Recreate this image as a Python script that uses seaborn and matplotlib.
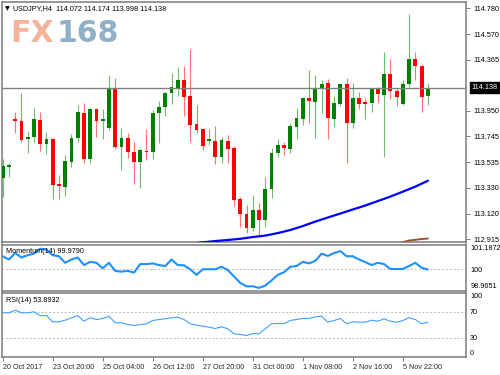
import numpy as np
import pandas as pd
import matplotlib
matplotlib.use("Agg")
import matplotlib.pyplot as plt
import seaborn as sns
from matplotlib import transforms

# ---------------- data ----------------
opens = [113.406, 113.499, 113.883, 113.871, 113.721, 113.740, 113.879, 113.683, 113.721, 113.357,
         113.338, 113.540, 113.734, 113.936, 113.562, 113.968, 113.869, 113.810, 114.133, 113.656,
         113.729, 113.621, 113.535, 113.629, 113.621, 113.931, 113.980, 114.093, 114.138, 114.200,
         114.071, 113.842, 113.802, 113.707, 113.710, 113.580, 113.710, 113.648, 113.236, 113.117,
         113.006, 113.149, 113.069, 113.317, 113.608, 113.675, 113.640, 113.823, 113.883, 114.052,
         114.025, 114.125, 114.174, 113.885, 114.006, 114.168, 113.850, 114.052, 114.017, 114.012,
         114.125, 114.079, 114.246, 114.114, 114.006, 114.168, 114.368, 114.316, 114.072]
highs = [113.562, 113.532, 113.939, 114.093, 113.788, 113.972, 113.939, 113.778, 113.730, 113.432,
         113.594, 113.764, 113.998, 114.017, 113.976, 113.968, 113.963, 114.241, 114.214, 113.810,
         113.769, 113.702, 113.648, 113.802, 113.958, 114.033, 114.106, 114.259, 114.308, 114.316,
         114.449, 113.998, 113.810, 113.802, 113.828, 113.742, 113.756, 113.667, 113.257, 113.190,
         113.271, 113.204, 113.414, 113.648, 113.721, 113.702, 113.850, 113.972, 114.065, 114.281,
         114.241, 114.200, 114.208, 114.071, 114.174, 114.214, 114.174, 114.101, 114.052, 114.133,
         114.141, 114.424, 114.368, 114.133, 114.200, 114.734, 114.429, 114.320, 114.174]
lows = [113.257, 113.419, 113.770, 113.700, 113.613, 113.689, 113.629, 113.600, 113.236, 113.236,
        113.263, 113.495, 113.702, 113.532, 113.527, 113.737, 113.723, 113.800, 113.643, 113.473,
        113.567, 113.360, 113.330, 113.554, 113.562, 113.693, 113.909, 114.004, 114.071, 113.912,
        113.702, 113.770, 113.635, 113.675, 113.519, 113.532, 113.527, 113.184, 113.014, 112.966,
        112.982, 112.947, 113.014, 113.244, 113.580, 113.594, 113.613, 113.721, 113.837, 113.850,
        113.734, 113.936, 113.723, 113.823, 113.993, 113.527, 113.810, 113.966, 113.883, 113.944,
        114.025, 113.580, 114.044, 113.993, 113.995, 114.146, 114.200, 113.944, 113.998]
closes = [113.505, 113.511, 113.871, 113.715, 113.740, 113.885, 113.683, 113.723, 113.352, 113.343,
          113.546, 113.734, 113.944, 113.562, 113.968, 113.871, 113.883, 114.133, 113.656, 113.729,
          113.616, 113.535, 113.635, 113.616, 113.936, 113.980, 114.093, 114.146, 114.200, 114.061,
          113.837, 113.796, 113.667, 113.721, 113.580, 113.715, 113.643, 113.230, 113.115, 113.002,
          113.149, 113.069, 113.317, 113.608, 113.675, 113.648, 113.828, 113.891, 114.052, 114.033,
          114.133, 114.168, 113.891, 114.017, 114.168, 113.850, 114.052, 114.006, 114.009, 114.125,
          114.087, 114.246, 114.114, 114.065, 114.168, 114.368, 114.314, 114.065, 114.138]

ma_bars = [31, 32, 34, 36, 38, 40, 42, 44, 46, 48, 50, 52, 54, 56, 58, 60, 62, 64, 66, 68]
ma_vals = [112.882, 112.888, 112.899, 112.907, 112.917, 112.931, 112.943, 112.963, 112.988, 113.020,
           113.056, 113.089, 113.121, 113.154, 113.186, 113.222, 113.258, 113.298, 113.339, 113.386]
ma2_bars = [63, 65, 67, 68]
ma2_vals = [112.875, 112.903, 112.915, 112.919]

momentum = [100.619, 100.463, 100.775, 100.558, 100.667, 100.747, 100.983, 100.936, 100.667, 100.619,
            100.303, 100.463, 100.558, 100.194, 100.350, 100.303, 100.038, 100.303, 99.910, 99.877,
            99.910, 99.830, 100.241, 100.241, 100.274, 100.194, 100.147, 100.463, 100.194, 100.180,
            99.991, 99.721, 99.991, 99.991, 99.991, 100.113, 99.957, 99.641, 99.329, 99.168,
            99.168, 99.092, 99.201, 99.452, 99.721, 99.849, 100.113, 100.147, 100.350, 100.274,
            100.397, 100.747, 100.634, 100.775, 100.870, 100.619, 100.619, 100.463, 100.336, 100.194,
            100.303, 100.241, 100.005, 100.005, 100.005, 100.147, 100.303, 100.066, 99.979]
rsi = [68.5, 68.5, 72.6, 68.5, 68.5, 70.1, 64.3, 64.3, 54.6, 54.6,
       57.1, 60.8, 64.3, 55.5, 60.8, 58.1, 59.7, 63.3, 53.0, 53.0,
       50.4, 48.8, 50.4, 51.5, 56.6, 58.1, 59.2, 60.8, 61.7, 58.1,
       51.5, 49.3, 47.8, 46.2, 44.2, 46.8, 43.7, 36.0, 34.9, 33.3,
       36.4, 36.0, 43.7, 51.5, 51.9, 51.5, 56.6, 58.1, 59.7, 59.7,
       62.3, 63.3, 54.0, 56.6, 59.7, 51.5, 54.6, 54.0, 54.0, 57.1,
       55.5, 59.2, 55.5, 54.0, 56.6, 60.8, 58.1, 51.5, 53.9]

price_ticks = [114.780, 114.570, 114.365, 113.950, 113.745, 113.535, 113.330, 113.120, 112.915]
last_price = 114.138
mom_ticks = [101.1872, 100.0, 98.9651]
mom_labels = ["101.1872", "100", "98.9651"]
rsi_ticks = [100, 70, 30, 0]
date_pos = [0, 8, 16, 24, 32, 40, 48, 56, 64]
date_labels = ["20 Oct 2017", "23 Oct 20:00", "25 Oct 04:00", "26 Oct 12:00", "27 Oct 20:00",
               "31 Oct 00:00", "1 Nov 08:00", "2 Nov 16:00", "5 Nov 22:00"]

# ---------------- style ----------------
sns.set_style("white")
plt.rcParams['font.family'] = ['Liberation Sans', 'DejaVu Sans']
FS = 5.2
GRAY = '#7a7a7a'

W, H = 500, 375
fig = plt.figure(figsize=(5, 3.75), dpi=100)
fig.patch.set_facecolor('white')


def px_axes(x0, y0, x1, y1):
    return fig.add_axes([x0 / W, 1 - y1 / H, (x1 - x0) / W, (y1 - y0) / H])


ax = px_axes(2, 2, 466, 242.5)
axm = px_axes(2, 244.5, 466, 290.5)
axr = px_axes(2, 292.5, 466, 357)

XL = (-0.11, 74.1)
for a in (ax, axm, axr):
    a.set_xlim(*XL)
    a.set_facecolor('white')
    for s in a.spines.values():
        s.set_color(GRAY)
        s.set_linewidth(1.1)
    a.yaxis.tick_right()
    a.tick_params(axis='y', labelsize=FS, colors='black', length=0, pad=3)
    a.tick_params(axis='x', bottom=False, labelbottom=False)

# ---------------- main candles ----------------
o = np.array(opens); h = np.array(highs); l = np.array(lows); c = np.array(closes)
x = np.arange(len(o))
cols = np.where(c >= o, '#008000', '#FF0000')
ax.vlines(x, l, h, colors=cols, linewidth=0.8, alpha=0.55, zorder=2)
ax.bar(x, np.maximum(np.abs(c - o), 0.011), bottom=np.minimum(o, c), width=0.62,
       color=cols, linewidth=0, zorder=3)

sns.lineplot(x=ma_bars, y=ma_vals, ax=ax, color='#0000FF', linewidth=1.6, zorder=4)
sns.lineplot(x=ma2_bars, y=ma2_vals, ax=ax, color='#A0522D', linewidth=1.4, zorder=4)
ax.axhline(last_price, color='#808080', linewidth=1.0, zorder=5)

ax.set_ylim(112.887, 114.831)
ax.set_yticks(price_ticks)
ax.set_yticklabels([f"{v:.3f}" for v in price_ticks])
ax.tick_params(axis='y', length=3, width=0.7, color=GRAY, pad=2)
ax.set_xlabel(''); ax.set_ylabel('')
trans = transforms.blended_transform_factory(ax.transAxes, ax.transData)
ax.text(1.012, last_price, f"{last_price:.3f}", transform=trans, ha='left', va='center',
        fontsize=FS, color='white', clip_on=False,
        bbox=dict(boxstyle='square,pad=0.25', fc='black', ec='black'))

# header + watermark
fig.text(5 / W, 1 - 8.5 / H, '▼', fontsize=4.5, ha='left', va='center', color='black',
         family=['DejaVu Sans'])
fig.text(13 / W, 1 - 8.5 / H, 'USDJPY,H4  114.072 114.174 113.998 114.138', fontsize=FS,
         ha='left', va='center', color='black')
fig.text(10 / W, 1 - 33.5 / H, 'FX', fontsize=21.5, fontweight='bold', color='#F4B49A',
         ha='left', va='center', family=['DejaVu Sans'])
fig.text(57 / W, 1 - 33.5 / H, '168', fontsize=21.5, fontweight='bold', color='#8EB0C9',
         ha='left', va='center', family=['DejaVu Sans'])

# ---------------- momentum ----------------
sns.lineplot(x=x, y=momentum, ax=axm, color='#1E90FF', linewidth=1.5)
axm.axhline(100, color='#BBBBBB', linewidth=0.7, linestyle=(0, (2, 2)), zorder=1)
axm.set_ylim(98.9651, 101.1872)
axm.set_yticks(mom_ticks)
axm.set_yticklabels(mom_labels)
tl = axm.get_yticklabels()
tl[0].set_va('top'); tl[-1].set_va('bottom')
axm.set_xlabel(''); axm.set_ylabel('')
fig.text(6 / W, 1 - 251.5 / H, 'Momentum(14) 99.9790', fontsize=FS, ha='left', va='center',
         color='black')

# ---------------- RSI ----------------
sns.lineplot(x=x, y=rsi, ax=axr, color='#3FA0FF', linewidth=0.8)
for lv in (70, 30):
    axr.axhline(lv, color='#BBBBBB', linewidth=0.7, linestyle=(0, (2, 2)), zorder=1)
axr.set_ylim(0, 100)
axr.set_yticks(rsi_ticks)
axr.set_yticklabels([str(v) for v in rsi_ticks])
tl = axr.get_yticklabels()
tl[0].set_va('top'); tl[-1].set_va('bottom')
axr.set_xlabel(''); axr.set_ylabel('')
axr.set_xticks(date_pos)
axr.set_xticklabels(date_labels)
axr.tick_params(axis='x', bottom=True, labelbottom=True, length=3, width=0.7, color=GRAY,
                labelsize=FS, pad=2, direction='out')
for t in axr.get_xticklabels():
    t.set_ha('left')
fig.text(6 / W, 1 - 300 / H, 'RSI(14) 53.8932', fontsize=FS, ha='left', va='center',
         color='black')

fig.savefig('out.png', dpi=100, facecolor='white')
